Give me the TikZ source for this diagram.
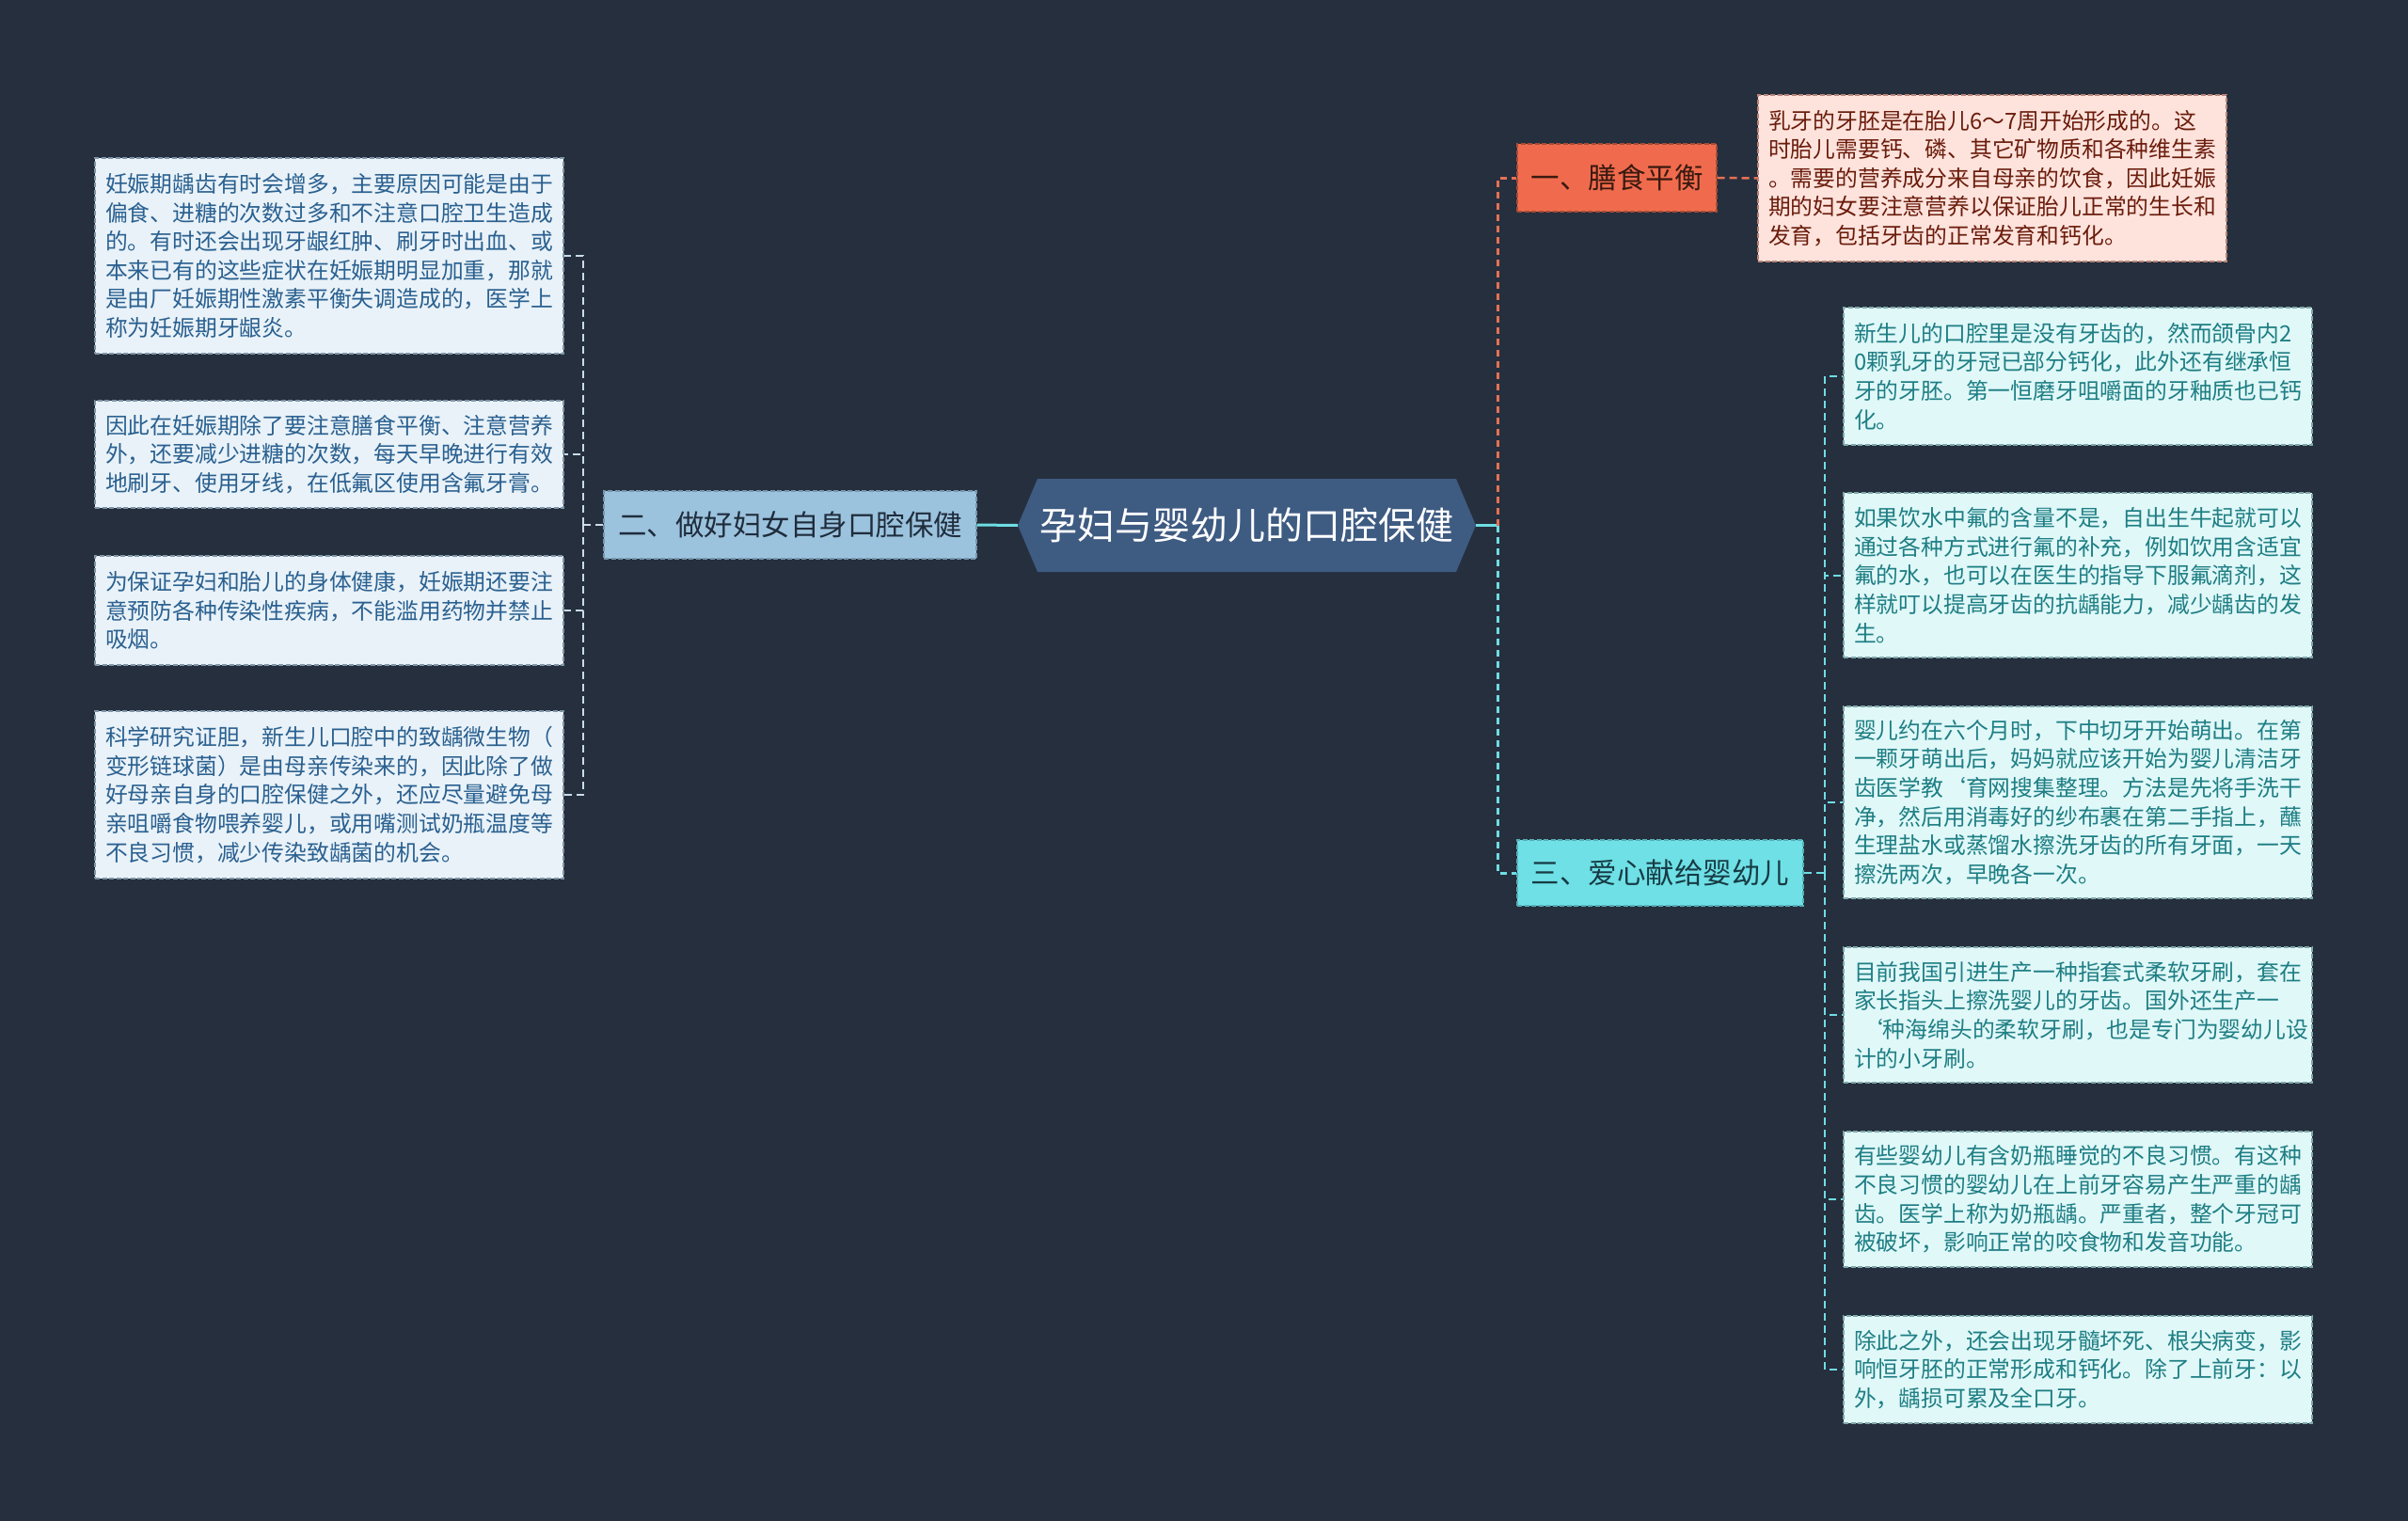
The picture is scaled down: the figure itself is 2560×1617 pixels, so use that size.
\documentclass[tikz,border=0pt]{standalone}
\usepackage{fontspec}
\setmainfont{Noto Sans CJK SC}
\usetikzlibrary{calc}
\definecolor{bg}{HTML}{262F3D}
\definecolor{hexfill}{HTML}{3E5B82}
\definecolor{onefill}{HTML}{F06B4D}
\definecolor{onetext}{HTML}{3A1A10}
\definecolor{twofill}{HTML}{9CC3DD}
\definecolor{twotext}{HTML}{1F2D3D}
\definecolor{threefill}{HTML}{6EE0E6}
\definecolor{threetext}{HTML}{173B44}
\definecolor{trfill}{HTML}{FDE3DC}
\definecolor{trtext}{HTML}{6B1C0C}
\definecolor{trborder}{HTML}{B88478}
\definecolor{lfill}{HTML}{E9F2F8}
\definecolor{ltext}{HTML}{2A6090}
\definecolor{lborder}{HTML}{7F95A8}
\definecolor{rfill}{HTML}{E0F8F8}
\definecolor{rtext}{HTML}{1E7E84}
\definecolor{rborder}{HTML}{7FA8AA}
\definecolor{orangeline}{HTML}{E37155}
\definecolor{cyanline}{HTML}{6EDDE3}
\definecolor{paleline}{HTML}{C8DCEA}
\tikzset{
  leafbase/.style={dash pattern=on 5pt off 2.5pt, line width=1.4pt, text width=476pt,
    inner xsep=11pt, inner ysep=0pt, align=left, font=\fontsize{23.8}{30.6}\selectfont},
  leafL/.style={leafbase, draw=lborder, fill=lfill, text=ltext},
  leafR/.style={leafbase, draw=rborder, fill=rfill, text=rtext},
  leafT/.style={leafbase, draw=trborder, fill=trfill, text=trtext},
  branch/.style={dash pattern=on 5pt off 2.5pt, line width=1.4pt, inner sep=0pt,
    minimum height=72pt, font=\fontsize{30.5}{34}\selectfont},
  mainline/.style={line width=3pt, dash pattern=on 7pt off 5pt},
  subline/.style={line width=2pt, dash pattern=on 8pt off 5pt},
}
\begin{document}
\begin{tikzpicture}[x=1pt,y=-1pt]
\fill[bg] (0,0) rectangle (2560,1617);
\useasboundingbox (0,0) rectangle (2560,1617);

% central hexagon
\fill[hexfill] (1103,509) -- (1548,509) -- (1569,558.5) -- (1548,608) -- (1103,608) -- (1082,558.5) -- cycle;
\node[minimum width=487pt, minimum height=99pt, inner sep=0pt, text=white,
  font=\fontsize{40}{44}\selectfont] (c) at (1325.5,558.5) {孕妇与婴幼儿的口腔保健};

% branches
\node[branch, draw=onetext!40!onefill, fill=onefill, text=onetext, minimum width=212pt] (n1) at (1719,189) {一、膳食平衡};
\node[branch, draw=twotext!30!twofill, fill=twofill, text=twotext, minimum width=396pt] (n2) at (840,558) {二、做好妇女自身口腔保健};
\node[branch, draw=threetext!30!threefill, fill=threefill, text=threetext, minimum width=304pt, minimum height=70pt] (n3) at (1765,928) {三、爱心献给婴幼儿};

% top right leaf
\node[leafT, minimum height=177pt] (tr) at (2118,189.5) {乳牙的牙胚是在胎儿6～7周开始形成的。这\\时胎儿需要钙、磷、其它矿物质和各种维生素\\。需要的营养成分来自母亲的饮食，因此妊娠\\期的妇女要注意营养以保证胎儿正常的生长和\\发育，包括牙齿的正常发育和钙化。};

% left leaves
\node[leafL, minimum height=208pt] (l1) at (350,272) {妊娠期龋齿有时会增多，主要原因可能是由于\\偏食、进糖的次数过多和不注意口腔卫生造成\\的。有时还会出现牙龈红肿、刷牙时出血、或\\本来已有的这些症状在妊娠期明显加重，那就\\是由厂妊娠期性激素平衡失调造成的，医学上\\称为妊娠期牙龈炎。};
\node[leafL, minimum height=114pt] (l2) at (350,483) {因此在妊娠期除了要注意膳食平衡、注意营养\\外，还要减少进糖的次数，每天早晚进行有效\\地刷牙、使用牙线，在低氟区使用含氟牙膏。};
\node[leafL, minimum height=116pt] (l3) at (350,649) {为保证孕妇和胎儿的身体健康，妊娠期还要注\\意预防各种传染性疾病，不能滥用药物并禁止\\吸烟。};
\node[leafL, minimum height=178pt] (l4) at (350,845) {科学研究证胆，新生儿口腔中的致龋微生物（\\变形链球菌）是由母亲传染来的，因此除了做\\好母亲自身的口腔保健之外，还应尽量避免母\\亲咀嚼食物喂养婴儿，或用嘴测试奶瓶温度等\\不良习惯，减少传染致龋菌的机会。};

% right leaves
\node[leafR, minimum height=146pt] (r1) at (2209,400) {新生儿的口腔里是没有牙齿的，然而颌骨内2\\0颗乳牙的牙冠已部分钙化，此外还有继承恒\\牙的牙胚。第一恒磨牙咀嚼面的牙釉质也已钙\\化。};
\node[leafR, minimum height=175pt] (r2) at (2209,611.5) {如果饮水中氟的含量不是，自出生牛起就可以\\通过各种方式进行氟的补充，例如饮用含适宜\\氟的水，也可以在医生的指导下服氟滴剂，这\\样就叮以提高牙齿的抗龋能力，减少龋齿的发\\生。};
\node[leafR, minimum height=204pt] (r3) at (2209,853) {婴儿约在六个月时，下中切牙开始萌出。在第\\一颗牙萌出后，妈妈就应该开始为婴儿清洁牙\\齿医学教`育网搜集整理。方法是先将手洗干\\净，然后用消毒好的纱布裹在第二手指上，蘸\\生理盐水或蒸馏水擦洗牙齿的所有牙面，一天\\擦洗两次，早晚各一次。};
\node[leafR, minimum height=144pt] (r4) at (2209,1079) {目前我国引进生产一种指套式柔软牙刷，套在\\家长指头上擦洗婴儿的牙齿。国外还生产一\\\hspace*{0.3em}‘种海绵头的柔软牙刷，也是专门为婴幼儿设\\计的小牙刷。};
\node[leafR, minimum height=144pt] (r5) at (2209,1275) {有些婴幼儿有含奶瓶睡觉的不良习惯。有这种\\不良习惯的婴幼儿在上前牙容易产生严重的龋\\齿。医学上称为奶瓶龋。严重者，整个牙冠可\\被破坏，影响正常的咬食物和发音功能。};
\node[leafR, minimum height=114pt] (r6) at (2209,1456) {除此之外，还会出现牙髓坏死、根尖病变，影\\响恒牙胚的正常形成和钙化。除了上前牙：以\\外，龋损可累及全口牙。};

% junctions
\coordinate (j1) at (1592,558.5);
\coordinate (j2) at (620,558);
\coordinate (j3) at (1940,928);

% connectors from centre
\draw[cyanline, line width=3pt] (c.east) -- (j1);
\draw[orangeline, mainline] (j1) |- (n1.west);
\draw[cyanline, mainline] (j1) |- (n3.west);
\draw[cyanline, line width=3pt] (c.west) -- (n2.east);

% sub connectors
\draw[orangeline, subline, line width=2.5pt] (n1.east) -- (tr.west);
\draw[paleline, subline] (n2.west) -- (j2);
\foreach \n in {l1,l2,l3,l4} \draw[paleline, subline] (j2) |- (\n.east);
\draw[cyanline, subline] (n3.east) -- (j3);
\foreach \n in {r1,r2,r3,r4,r5,r6} \draw[cyanline, subline] (j3) |- (\n.west);
\end{tikzpicture}
\end{document}
